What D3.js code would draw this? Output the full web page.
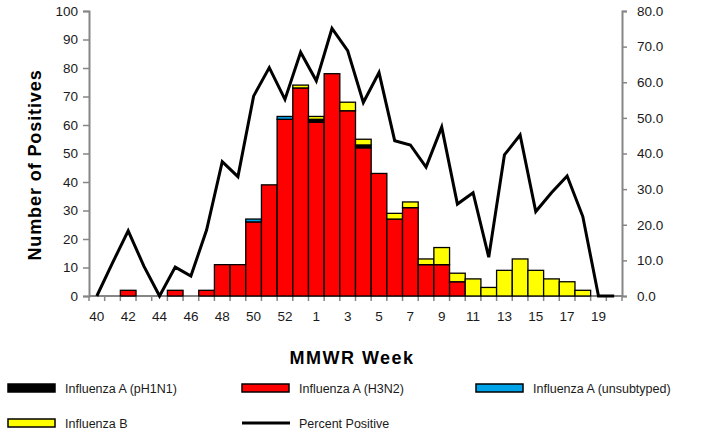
<!DOCTYPE html>
<html>
<head>
<meta charset="utf-8">
<script src="https://cdn.jsdelivr.net/npm/d3@7"></script>
<style>
  html, body { margin: 0; padding: 0; background: #fff; }
  svg { display: block; font-family: "Liberation Sans", Arial, sans-serif; }
</style>
</head>
<body>
<svg id="chart" width="703" height="435"></svg>
<script>
// ---- Data ----
const weeks = [40,41,42,43,44,45,46,47,48,49,50,51,52,53,1,2,3,4,5,6,7,8,9,10,11,12,13,14,15,16,17,18,19,20];
const h3n2 =   [null,0,2,0,null,2,0,2,11,11,26,39,62,73,61,78,65,52,43,27,31,11,11,5,0,0,0,0,0,0,0,0,null,null];
const ph1n1 =  [0,0,0,0,0,0,0,0,0,0,0,0,0,0,1,0,0,1,0,0,0,0,0,0,0,0,0,0,0,0,0,0,0,0];
const unsub =  [0,0,0,0,0,0,0,0,0,0,1,0,1,0,0,0,0,0,0,0,0,0,0,0,0,0,0,0,0,0,0,0,0,0];
const fluB =   [0,0,0,0,0,0,0,0,0,0,0,0,0,1,1,0,3,2,0,2,2,2,6,3,6,3,9,13,9,6,5,2,0,0];
const pctPos = [0,9.3,18.3,8.4,0,8.1,5.6,18.5,37.7,33.5,56.1,64.1,55.2,68.4,60.4,75.1,68.9,54.3,62.7,43.6,42.4,36.2,47.4,25.8,29.0,10.9,39.6,45.2,23.7,29.0,33.7,22.3,0,0];
const leftTicks = [0,10,20,30,40,50,60,70,80,90,100];
const rightTicks = [0,10,20,30,40,50,60,70,80];

const seriesDefs = [
  {name: "Influenza A (H3N2)", values: h3n2, color: "#ff0000"},
  {name: "Influenza A (pH1N1)", values: ph1n1, color: "#000000"},
  {name: "Influenza A (unsubtyped)", values: unsub, color: "#00a2e8"},
  {name: "Influenza B", values: fluB, color: "#ffff00"}
];

// ---- Layout ----
const svg = d3.select("#chart");
const L = 89, R = 622, T = 11, B = 296;
const axisColor = "#868686";

const x = d3.scaleBand().domain(weeks.map(String)).range([L, R]).paddingInner(0).paddingOuter(0);
const yL = d3.scaleLinear().domain([0, 100]).range([B, T]);
const yR = d3.scaleLinear().domain([0, 80]).range([B, T]);

// Left axis
const gl = svg.append("g").attr("transform", `translate(${L},0)`)
  .call(d3.axisLeft(yL).tickValues(leftTicks).tickSize(6).tickPadding(5).tickFormat(d3.format("d")));
// Right axis
const gr = svg.append("g").attr("transform", `translate(${R},0)`)
  .call(d3.axisRight(yR).tickValues(rightTicks).tickSize(5).tickPadding(10).tickFormat(d3.format(".1f")));
[gl, gr].forEach(g => {
  g.select(".domain").attr("stroke", axisColor).attr("stroke-width", 2);
  g.selectAll(".tick line").attr("stroke", axisColor).attr("stroke-width", 1.5);
  g.selectAll(".tick text").attr("fill", "#1a1a1a").style("font-size", "13.5px");
});

// Bottom axis
const gb = svg.append("g");
gb.append("line").attr("x1", L).attr("x2", R).attr("y1", B).attr("y2", B)
  .attr("stroke", axisColor).attr("stroke-width", 2);
const bw = x.bandwidth();
gb.selectAll("line.tk").data(d3.range(weeks.length + 1)).join("line")
  .attr("class", "tk")
  .attr("x1", i => L + i * bw).attr("x2", i => L + i * bw)
  .attr("y1", B).attr("y2", B + 5)
  .attr("stroke", axisColor).attr("stroke-width", 1.5);
gb.selectAll("text").data(weeks.filter((w, i) => i % 2 === 0)).join("text")
  .attr("x", w => x(String(w)) + bw / 2)
  .attr("y", 321)
  .attr("text-anchor", "middle")
  .attr("fill", "#1a1a1a")
  .style("font-size", "13.5px")
  .text(w => w);

// Stacked bars
const bars = svg.append("g");
weeks.forEach((w, i) => {
  let base = 0;
  seriesDefs.forEach((s, si) => {
    const v = s.values[i];
    if (v === null) return;
    if (v > 0 || (si === 0 && v === 0)) {
      bars.append("rect")
        .attr("x", x(String(w)))
        .attr("width", bw)
        .attr("y", yL(base + v))
        .attr("height", yL(base) - yL(base + v))
        .attr("fill", s.color)
        .attr("stroke", "#000")
        .attr("stroke-width", 1.3);
    }
    base += v;
  });
});

// Percent positive line
const line = d3.line()
  .x((d, i) => x(String(weeks[i])) + bw / 2)
  .y(d => yR(d));
svg.append("path").datum(pctPos)
  .attr("d", line)
  .attr("fill", "none")
  .attr("stroke", "#000")
  .attr("stroke-width", 3)
  .attr("stroke-linejoin", "miter");

// Axis titles
svg.append("text")
  .attr("transform", "translate(41,165) rotate(-90)")
  .attr("text-anchor", "middle")
  .style("font-size", "18px").style("font-weight", "bold")
  .style("letter-spacing", "0.9px")
  .text("Number of Positives");
svg.append("text")
  .attr("x", 352).attr("y", 364)
  .attr("text-anchor", "middle")
  .style("font-size", "18px").style("font-weight", "bold")
  .style("letter-spacing", "1.5px")
  .text("MMWR Week");

// Legend
const legendItems = [
  {name: "Influenza A (pH1N1)", color: "#000000", x: 8, y: 388, type: "rect"},
  {name: "Influenza A (H3N2)", color: "#ff0000", x: 242, y: 388, type: "rect"},
  {name: "Influenza A (unsubtyped)", color: "#00a2e8", x: 476, y: 388, type: "rect"},
  {name: "Influenza B", color: "#ffff00", x: 8, y: 423, type: "rect"},
  {name: "Percent Positive", color: "#000000", x: 242, y: 423, type: "line"}
];
const lg = svg.append("g");
legendItems.forEach(it => {
  if (it.type === "rect") {
    lg.append("rect").attr("x", it.x).attr("y", it.y - 4).attr("width", 47).attr("height", 8)
      .attr("fill", it.color).attr("stroke", "#000").attr("stroke-width", 1.5);
  } else {
    lg.append("line").attr("x1", it.x).attr("x2", it.x + 48).attr("y1", it.y).attr("y2", it.y)
      .attr("stroke", "#000").attr("stroke-width", 3);
  }
  lg.append("text").attr("x", it.x + 57).attr("y", it.y + 4.5)
    .style("font-size", "12.5px").attr("fill", "#1a1a1a").text(it.name);
});
</script>
</body>
</html>
